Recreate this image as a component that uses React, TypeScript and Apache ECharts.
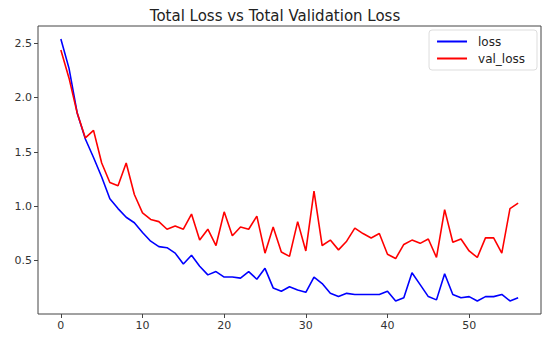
import React, { useEffect, useRef } from "react";
import * as echarts from "echarts";

const epochs: number[] = Array.from({ length: 57 }, (_, i) => i);
const loss: number[] = [
  2.54, 2.27, 1.86, 1.62, 1.45, 1.27, 1.07, 0.98, 0.9, 0.85,
  0.76, 0.68, 0.63, 0.62, 0.57, 0.47, 0.55, 0.45, 0.37, 0.4,
  0.35, 0.35, 0.34, 0.4, 0.33, 0.43, 0.25, 0.22, 0.26, 0.23,
  0.21, 0.35, 0.29, 0.2, 0.17, 0.2, 0.19, 0.19, 0.19, 0.19,
  0.22, 0.13, 0.16, 0.39, 0.28, 0.17, 0.14, 0.38, 0.19, 0.16,
  0.17, 0.13, 0.17, 0.17, 0.19, 0.13, 0.16,
];
const valLoss: number[] = [
  2.44, 2.18, 1.86, 1.63, 1.7, 1.4, 1.22, 1.19, 1.4, 1.11,
  0.94, 0.88, 0.86, 0.79, 0.82, 0.79, 0.93, 0.69, 0.79, 0.64,
  0.95, 0.73, 0.81, 0.79, 0.91, 0.57, 0.81, 0.58, 0.54, 0.86,
  0.59, 1.14, 0.64, 0.69, 0.6, 0.68, 0.8, 0.75, 0.71, 0.75,
  0.56, 0.52, 0.65, 0.69, 0.66, 0.7, 0.53, 0.97, 0.67, 0.7,
  0.59, 0.53, 0.71, 0.71, 0.57, 0.98, 1.03,
];
const xTicks: number[] = [0, 10, 20, 30, 40, 50];
const yTicks: number[] = [0.5, 1.0, 1.5, 2.0, 2.5];

export default function App() {
  const ref = useRef<HTMLDivElement>(null);
  useEffect(() => {
    document.body.style.margin = "0";
    if (!ref.current) return;
    const chart = echarts.init(ref.current, undefined, { renderer: "svg" });
    const font = "DejaVu Sans";
    chart.setOption({
      animation: false,
      backgroundColor: "#ffffff",
      textStyle: { fontFamily: font },
      title: {
        text: "Total Loss vs Total Validation Loss",
        left: "center",
        top: 3,
        textStyle: { fontFamily: font, fontSize: 15, fontWeight: "normal", color: "#222" },
      },
      grid: {
        left: 38,
        right: 9,
        top: 26,
        bottom: 25,
        show: true,
        borderColor: "#444",
        borderWidth: 1,
        backgroundColor: "#fff",
      },
      legend: {
        orient: "vertical",
        right: 13,
        top: 30,
        itemWidth: 30,
        itemHeight: 2,
        itemGap: 4,
        padding: [5, 12, 5, 8],
        borderColor: "#ddd",
        borderWidth: 1,
        borderRadius: 3,
        backgroundColor: "#fff",
        textStyle: { fontFamily: font, fontSize: 12, color: "#222", lineHeight: 13, padding: [0, 0, 0, 6] },
        data: [
          { name: "loss", icon: "rect" },
          { name: "val_loss", icon: "rect" },
        ],
      },
      xAxis: {
        type: "value",
        min: -2.8,
        max: 58.8,
        splitLine: { show: false },
        axisLine: { show: false, onZero: false },
        axisTick: { show: true, length: 4, customValues: xTicks, lineStyle: { color: "#444" } },
        axisLabel: { customValues: xTicks, fontSize: 11, color: "#333", fontFamily: font, margin: 6 },
      },
      yAxis: {
        type: "value",
        min: 0.01,
        max: 2.66,
        splitLine: { show: false },
        axisLine: { show: false, onZero: false },
        axisTick: { show: true, length: 4, customValues: yTicks, lineStyle: { color: "#444" } },
        axisLabel: {
          customValues: yTicks,
          fontSize: 11,
          color: "#333",
          fontFamily: font,
          margin: 6,
          formatter: (v: number) => v.toFixed(1),
        },
      },
      series: [
        {
          name: "loss",
          type: "line",
          data: epochs.map((e, i) => [e, loss[i]]),
          showSymbol: false,
          lineStyle: { color: "#0000ff", width: 1.6 },
          itemStyle: { color: "#0000ff" },
        },
        {
          name: "val_loss",
          type: "line",
          data: epochs.map((e, i) => [e, valLoss[i]]),
          showSymbol: false,
          lineStyle: { color: "#ff0000", width: 1.6 },
          itemStyle: { color: "#ff0000" },
        },
      ],
    });
    return () => chart.dispose();
  }, []);
  return <div ref={ref} style={{ width: 550, height: 339 }} />;
}
